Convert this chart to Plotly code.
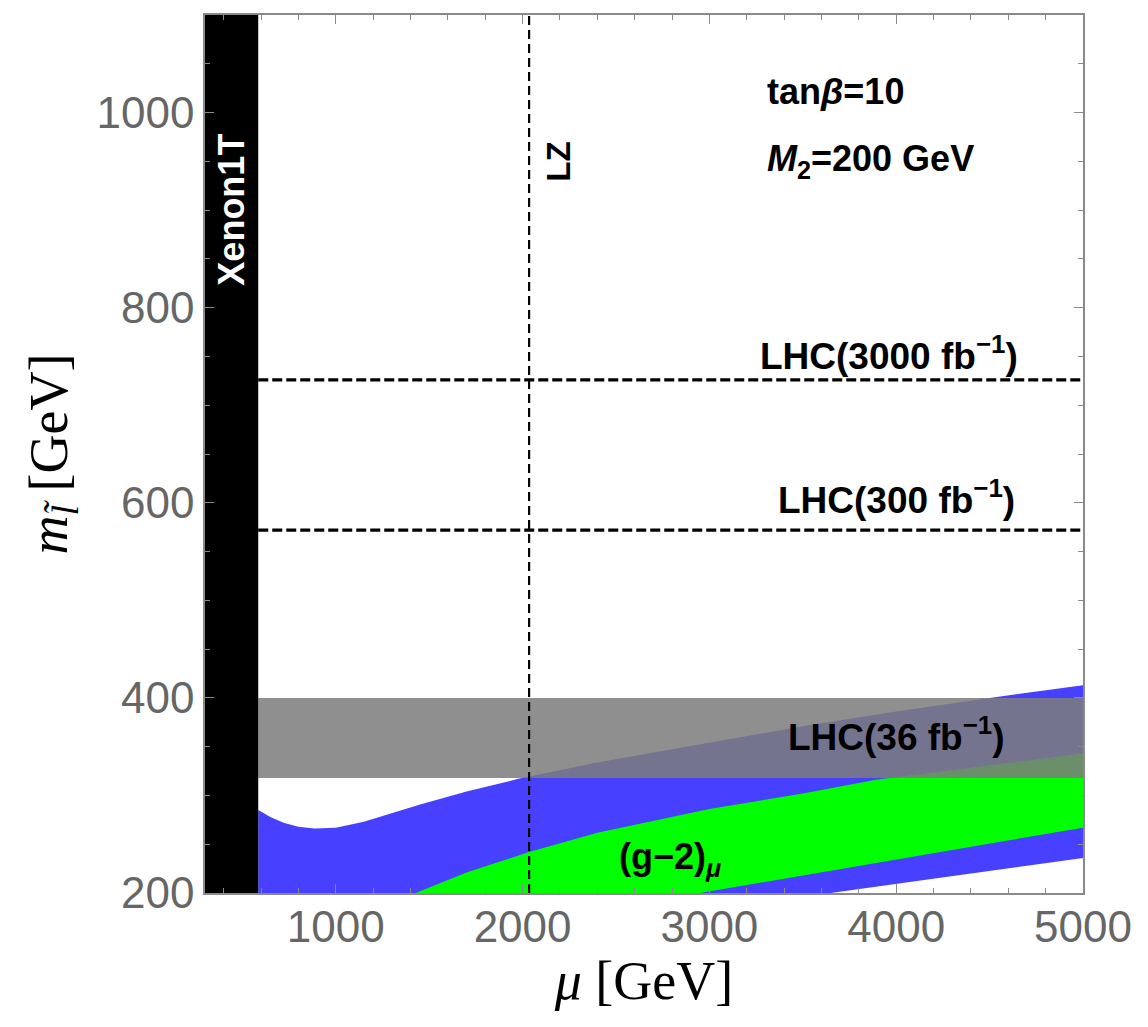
import plotly.graph_objects as go

# ---- data ----
blue_top_mu = [585, 650, 720, 800, 886, 1000, 1150, 1300, 1456, 1700, 1977, 2406, 3000, 3500, 4000, 4500, 5000]
blue_top_m = [285, 278, 272, 268, 266, 267, 273, 282, 291, 304, 317, 334, 354, 371, 386, 400, 413]
blue_bot_mu = [5000, 4178, 3650, 585]
blue_bot_m = [236, 214, 200, 200]

green_top_mu = [1428, 1700, 2035, 2406, 3000, 3500, 3892, 4500, 5000]
green_top_m = [200, 221, 242, 262, 286, 302, 316, 331, 343]
green_bot_mu = [5000, 4178, 2950]
green_bot_m = [267, 240, 200]

lhc36_mu = [585, 5000]
lhc36_low, lhc36_high = 318, 400
xenon_mu = [300, 585]
lz_mu = 2035
lhc300_m = 572
lhc3000_m = 726
mu_range = [300, 5000]
m_range = [200, 1100]

BLUE = "rgb(72,64,255)"
GREEN = "rgb(0,255,0)"
SANS = "Liberation Sans, Arial, sans-serif"
SERIF = "Liberation Serif, Times New Roman, serif"

fig = go.Figure()

# blue region
fig.add_trace(go.Scatter(
    x=blue_top_mu + blue_bot_mu, y=blue_top_m + blue_bot_m,
    fill="toself", fillcolor=BLUE, line=dict(width=0), mode="lines",
    hoverinfo="skip", showlegend=False))
# green region
fig.add_trace(go.Scatter(
    x=green_top_mu + green_bot_mu, y=green_top_m + green_bot_m,
    fill="toself", fillcolor=GREEN, line=dict(width=0), mode="lines",
    hoverinfo="skip", showlegend=False))
# LHC 36 gray band
fig.add_trace(go.Scatter(
    x=[lhc36_mu[0], lhc36_mu[1], lhc36_mu[1], lhc36_mu[0]],
    y=[lhc36_low, lhc36_low, lhc36_high, lhc36_high],
    fill="toself", fillcolor="rgba(125,125,125,0.86)", line=dict(width=0), mode="lines",
    hoverinfo="skip", showlegend=False))
# Xenon1T black band
fig.add_trace(go.Scatter(
    x=[xenon_mu[0], xenon_mu[1], xenon_mu[1], xenon_mu[0]],
    y=[m_range[0], m_range[0], m_range[1], m_range[1]],
    fill="toself", fillcolor="black", line=dict(width=0), mode="lines",
    hoverinfo="skip", showlegend=False))
# LHC dashed lines
for ym in (lhc300_m, lhc3000_m):
    fig.add_trace(go.Scatter(
        x=[xenon_mu[1], mu_range[1]], y=[ym, ym], mode="lines",
        line=dict(color="black", width=3.2, dash="10px,4px"),
        hoverinfo="skip", showlegend=False))
# LZ dashed line
fig.add_trace(go.Scatter(
    x=[lz_mu, lz_mu], y=m_range, mode="lines",
    line=dict(color="black", width=2.2, dash="9px,5px"),
    hoverinfo="skip", showlegend=False))

def ann(x, y, text, size=27, color="black", angle=0, xanchor="center"):
    fig.add_annotation(x=x, y=y, xref="x", yref="y", text=text, showarrow=False,
                       textangle=angle, xanchor=xanchor, yanchor="middle",
                       font=dict(family=SANS, size=size, color=color))

ann(442, 900, "<b>Xenon1T</b>", size=36, color="white", angle=-90)
ann(2192, 950, "<b>LZ</b>", size=33, angle=-90)
ann(3300, 1022, "<b>tan<i>β</i>=10</b>", size=36, xanchor="left")
ann(3300, 950, "<b><i>M</i><sub>2</sub>=200 GeV</b>", size=36, xanchor="left")
ann(3960, 753, "<b>LHC(3000 fb<sup>−1</sup>)</b>", size=37)
ann(4000, 605, "<b>LHC(300 fb<sup>−1</sup>)</b>", size=37)
ann(4000, 362, "<b>LHC(36 fb<sup>−1</sup>)</b>", size=37)
ann(2790, 235, "<b>(g−2)<sub><i>μ</i></sub></b>", size=36)

axis_common = dict(
    showgrid=False, zeroline=False, showline=True, linecolor="#8a8a8a", linewidth=1.5,
    mirror="ticks", ticks="inside", ticklen=9, tickwidth=1.2, tickcolor="#8a8a8a",
    tickfont=dict(family=SANS, size=44, color="#666666"),
)
fig.update_xaxes(range=mu_range, tick0=0, dtick=1000,
                 minor=dict(dtick=200, tick0=0, ticks="inside", ticklen=5, tickcolor="#8a8a8a", tickwidth=1),
                 title=dict(text="<i>μ</i> [GeV]", font=dict(family=SERIF, size=54, color="black"), standoff=12),
                 ticklabelstandoff=-6,
                 **axis_common)
fig.update_yaxes(range=m_range, tick0=0, dtick=200,
                 minor=dict(dtick=50, tick0=0, ticks="inside", ticklen=5, tickcolor="#8a8a8a", tickwidth=1),
                 title=dict(text="<i>m</i><sub><i>l̃</i></sub> [GeV]", font=dict(family=SERIF, size=54, color="black"), standoff=12),
                 ticklabelstandoff=0,
                 **axis_common)

fig.update_layout(
    width=1148, height=1027,
    margin=dict(l=197, r=73, t=5, b=142),
    plot_bgcolor="white", paper_bgcolor="white",
    showlegend=False,
)

fig.write_html("out.html")
